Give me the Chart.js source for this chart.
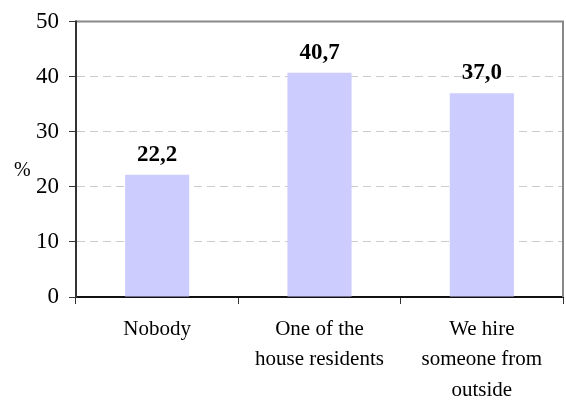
<!DOCTYPE html>
<html>
<head>
<meta charset="utf-8">
<script src="https://cdn.jsdelivr.net/npm/chart.js@4.4.0/dist/chart.umd.min.js"></script>
<style>
  html, body { margin: 0; padding: 0; background: #fff; }
  #wrap { width: 566px; height: 401px; }
</style>
</head>
<body>
<div id="wrap"><canvas id="myChart" width="566" height="401"></canvas></div>
<script>
const categorias = [['Nobody'], ['One of the', 'house residents'], ['We hire', 'someone from', 'outside']]
const valores = [22.2, 40.7, 37.0]
const ticksY = [0, 10, 20, 30, 40, 50]

const fuente = 'Liberation Serif, Times New Roman, serif'

// etiquetas encima de cada barra y el "%" del eje
const etiquetas = {
  id: 'etiquetas',
  afterDatasetsDraw(chart) {
    const ctx = chart.ctx
    const meta = chart.getDatasetMeta(0)
    ctx.save()
    ctx.fillStyle = '#000'
    ctx.font = 'bold 23px ' + fuente
    ctx.textAlign = 'center'
    ctx.textBaseline = 'alphabetic'
    meta.data.forEach((bar, i) => {
      ctx.fillText(valores[i].toFixed(1).replace('.', ','), bar.x, bar.y - 14)
    })
    ctx.font = '20px ' + fuente
    ctx.textAlign = 'left'
    ctx.textBaseline = 'middle'
    ctx.fillText('%', 14, 171)
    ctx.restore()
  },
  afterDraw(chart) {
    // borde gris arriba y a la derecha, eje izquierdo oscuro
    const { ctx, chartArea: a } = chart
    ctx.save()
    ctx.setLineDash([])
    ctx.strokeStyle = '#888'
    ctx.lineWidth = 2
    ctx.beginPath()
    ctx.moveTo(a.left, a.top)
    ctx.lineTo(a.right, a.top)
    ctx.lineTo(a.right, a.bottom)
    ctx.stroke()
    ctx.strokeStyle = '#333'
    ctx.beginPath()
    ctx.moveTo(a.left, a.top - 1)
    ctx.lineTo(a.left, a.bottom + 1)
    ctx.stroke()
    ctx.restore()
  }
}

const ctx = document.getElementById('myChart')
const mychart = new Chart(ctx, {
  type: 'bar',
  data: {
    labels: categorias,
    datasets: [{
      data: valores,
      backgroundColor: '#ccccff',
      borderWidth: 0,
      categoryPercentage: 1,
      barPercentage: 0.395
    }]
  },
  options: {
    responsive: false,
    animation: false,
    layout: { padding: { left: 0, right: 3, top: 14, bottom: 0 } },
    plugins: { legend: { display: false }, tooltip: { enabled: false } },
    scales: {
      y: {
        min: 0,
        max: 50,
        afterBuildTicks: s => { s.ticks = ticksY.map(v => ({ value: v })) },
        afterFit: s => { s.width = 76 },
        border: { color: '#333', width: 2, dash: [8, 5] },
        grid: {
          color: '#cccccc',
          tickLength: 7,
          tickColor: '#333',
          tickBorderDash: [],
          tickWidth: 1
        },
        ticks: { color: '#000', font: { family: fuente, size: 23, lineHeight: 1 }, padding: 10 }
      },
      x: {
        afterFit: s => { s.height = 104 },
        border: { color: '#111', width: 2 },
        grid: {
          offset: true,
          drawOnChartArea: false,
          tickLength: 7,
          tickColor: '#333'
        },
        ticks: { color: '#000', font: { family: fuente, size: 21, lineHeight: 1.45 }, padding: 10, maxRotation: 0 }
      }
    }
  },
  plugins: [etiquetas]
})
</script>
</body>
</html>
